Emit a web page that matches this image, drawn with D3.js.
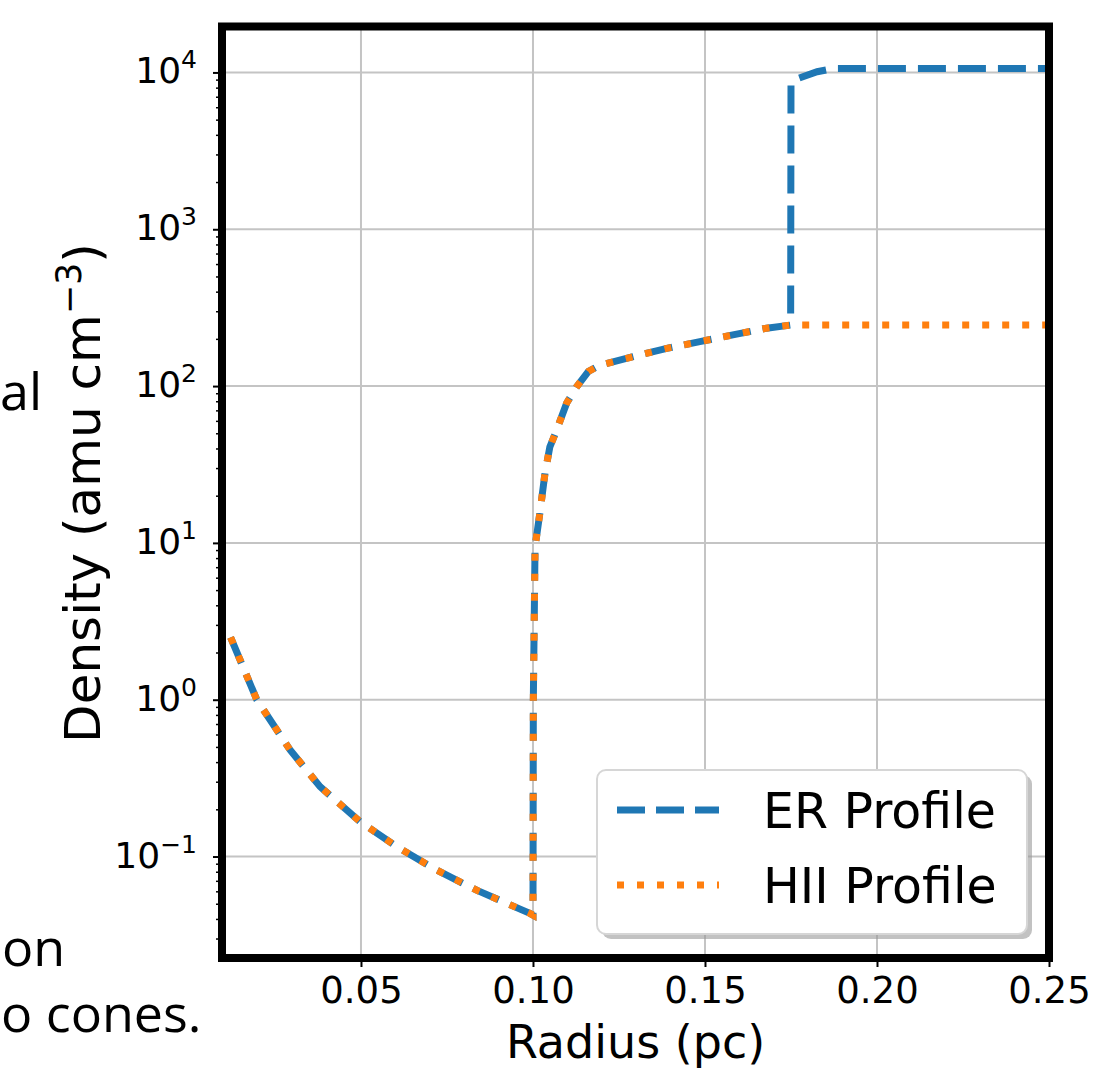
<!DOCTYPE html>
<html>
<head>
<meta charset="utf-8">
<script src="https://cdn.jsdelivr.net/npm/d3@7"></script>
<style>
  body { margin: 0; background: #fff; }
  svg { display: block; }
</style>
</head>
<body>
<svg width="1096" height="1073"></svg>
<script>
// radius (pc) shared by both profiles
const radius = [0.0121, 0.0197, 0.0294, 0.0381, 0.0497, 0.0604, 0.0720, 0.0836, 0.0991, 0.1000,
  0.1001, 0.1006, 0.1020, 0.1035, 0.1049, 0.1069, 0.1098, 0.1127, 0.1161, 0.1195,
  0.1291, 0.1389, 0.1485, 0.1581, 0.1679, 0.1749, 0.1750, 0.1772, 0.1826, 0.1874, 0.2500];

// density (amu cm^-3)
const erDensity = [2.5, 1.0, 0.478, 0.279, 0.167, 0.1155, 0.082, 0.061, 0.0434, 0.0423,
  1.0, 9.4, 15.5, 27.9, 40.9, 52.5, 78, 99, 124, 136,
  154, 174, 192, 212, 234, 245, 8500, 9180, 10100, 10600, 10600];
const hiiDensity = [2.5, 1.0, 0.478, 0.279, 0.167, 0.1155, 0.082, 0.061, 0.0434, 0.0423,
  1.0, 9.4, 15.5, 27.9, 40.9, 52.5, 78, 99, 124, 136,
  154, 174, 192, 212, 234, 245, 245, 245, 245, 245, 245];

const xTicks = [0.05, 0.10, 0.15, 0.20, 0.25];
const yExponents = [-1, 0, 1, 2, 3, 4];
const seriesNames = ['ER Profile', 'HII Profile'];
const seriesColors = ['#1f77b4', '#ff7f0e'];

const svg = d3.select('svg');
const font = '"DejaVu Sans", sans-serif';

const plot = {left: 222, right: 1049, top: 26.5, bottom: 958};

const x = d3.scaleLinear().domain([0.0096, 0.25]).range([plot.left, plot.right]);
const y = d3.scaleLog().domain([0.02254, 19630]).range([plot.bottom, plot.top]);

// bits of slide text left showing at the left edge
const slide = svg.append('g')
    .attr('font-family', '"Open Sans", sans-serif')
    .attr('font-size', 52)
    .attr('fill', '#000');
slide.append('text').attr('x', 0).attr('y', 410).text('al');
slide.append('text').attr('x', 2).attr('y', 966).text('on');
slide.append('text').attr('x', 1).attr('y', 1032).text('o cones.');

svg.append('defs').append('clipPath').attr('id', 'plot-clip')
  .append('rect')
    .attr('x', plot.left).attr('y', plot.top)
    .attr('width', plot.right - plot.left).attr('height', plot.bottom - plot.top);

svg.append('rect')
    .attr('x', plot.left).attr('y', plot.top)
    .attr('width', plot.right - plot.left).attr('height', plot.bottom - plot.top)
    .attr('fill', '#fff');

// grid
const grid = svg.append('g').attr('stroke', '#c4c4c4').attr('stroke-width', 2);
grid.selectAll('.vx').data(xTicks).enter().append('line')
    .attr('x1', d => x(d)).attr('x2', d => x(d))
    .attr('y1', plot.top).attr('y2', plot.bottom);
grid.selectAll('.hy').data(yExponents).enter().append('line')
    .attr('x1', plot.left).attr('x2', plot.right)
    .attr('y1', d => y(Math.pow(10, d))).attr('y2', d => y(Math.pow(10, d)));

// axes
const xAxis = svg.append('g')
    .attr('transform', `translate(0,${plot.bottom})`)
    .call(d3.axisBottom(x).tickValues(xTicks).tickFormat(d3.format('.2f')).tickSize(9).tickPadding(10));
xAxis.select('.domain').remove();
xAxis.selectAll('line').attr('stroke', '#000').attr('stroke-width', 2);
xAxis.selectAll('text')
    .attr('font-family', font).attr('font-size', 37).attr('fill', '#000');

const minorTicks = y.ticks().filter(v => Math.abs(Math.log10(v) - Math.round(Math.log10(v))) > 1e-6);
const yMinor = svg.append('g')
    .attr('transform', `translate(${plot.left},0)`)
    .call(d3.axisLeft(y).tickValues(minorTicks).tickFormat('').tickSize(6));
yMinor.select('.domain').remove();
yMinor.selectAll('line').attr('stroke', '#000').attr('stroke-width', 1.5);

const yAxis = svg.append('g')
    .attr('transform', `translate(${plot.left},0)`)
    .call(d3.axisLeft(y).tickValues(yExponents.map(e => Math.pow(10, e))).tickFormat('').tickSize(9));
yAxis.select('.domain').remove();
yAxis.selectAll('line').attr('stroke', '#000').attr('stroke-width', 2);

const yLabels = svg.append('g')
    .attr('font-family', font).attr('font-size', 36).attr('text-anchor', 'end').attr('fill', '#000');
yExponents.forEach(e => {
  const t = yLabels.append('text')
      .attr('x', 197)
      .attr('y', y(Math.pow(10, e)) + 11);
  t.append('tspan').text('10');
  t.append('tspan')
      .attr('font-size', 25)
      .attr('dy', -15)
      .text(e < 0 ? '\u2212' + Math.abs(e) : String(e));
});

svg.append('text')
    .attr('x', (plot.left + plot.right) / 2)
    .attr('y', 1058)
    .attr('text-anchor', 'middle')
    .attr('font-family', font).attr('font-size', 46)
    .text('Radius (pc)');

const yTitle = svg.append('text')
    .attr('transform', 'translate(100,493) rotate(-90)')
    .attr('text-anchor', 'middle')
    .attr('font-family', font).attr('font-size', 50);
yTitle.append('tspan').text('Density (amu cm');
yTitle.append('tspan').attr('font-size', 35).attr('dy', -19).text('\u22123');
yTitle.append('tspan').attr('dy', 19).text(')');

// profiles
const line = d3.line()
    .x((d, i) => x(radius[i]))
    .y(d => y(d));

const lines = svg.append('g').attr('clip-path', 'url(#plot-clip)').attr('fill', 'none');
lines.append('path')
    .attr('d', line(erDensity))
    .attr('stroke', seriesColors[0])
    .attr('stroke-width', 7)
    .attr('stroke-dasharray', '28,12');
lines.append('path')
    .attr('d', line(hiiDensity))
    .attr('stroke', seriesColors[1])
    .attr('stroke-width', 7)
    .attr('stroke-dasharray', '7,13');

// frame
svg.append('rect')
    .attr('x', plot.left).attr('y', plot.top)
    .attr('width', plot.right - plot.left).attr('height', plot.bottom - plot.top)
    .attr('fill', 'none')
    .attr('stroke', '#000')
    .attr('stroke-width', 8);

// legend
const legend = svg.append('g').attr('transform', 'translate(597,770)');
legend.append('rect')
    .attr('x', 5).attr('y', 5).attr('width', 430).attr('height', 164).attr('rx', 9)
    .attr('fill', '#9a9a9a').attr('opacity', 0.6);
legend.append('rect')
    .attr('width', 430).attr('height', 164).attr('rx', 9)
    .attr('fill', '#fff').attr('stroke', '#d6d6d6').attr('stroke-width', 2);
const dashes = ['28,11', '7,13'];
seriesNames.forEach((name, i) => {
  const cy = 40 + i * 75;
  legend.append('line')
      .attr('x1', 20).attr('x2', 122).attr('y1', cy).attr('y2', cy)
      .attr('stroke', seriesColors[i]).attr('stroke-width', 7)
      .attr('stroke-dasharray', dashes[i]);
  legend.append('text')
      .attr('x', 166).attr('y', cy + 18)
      .attr('font-family', font).attr('font-size', 49).attr('fill', '#000')
      .text(name);
});
</script>
</body>
</html>
